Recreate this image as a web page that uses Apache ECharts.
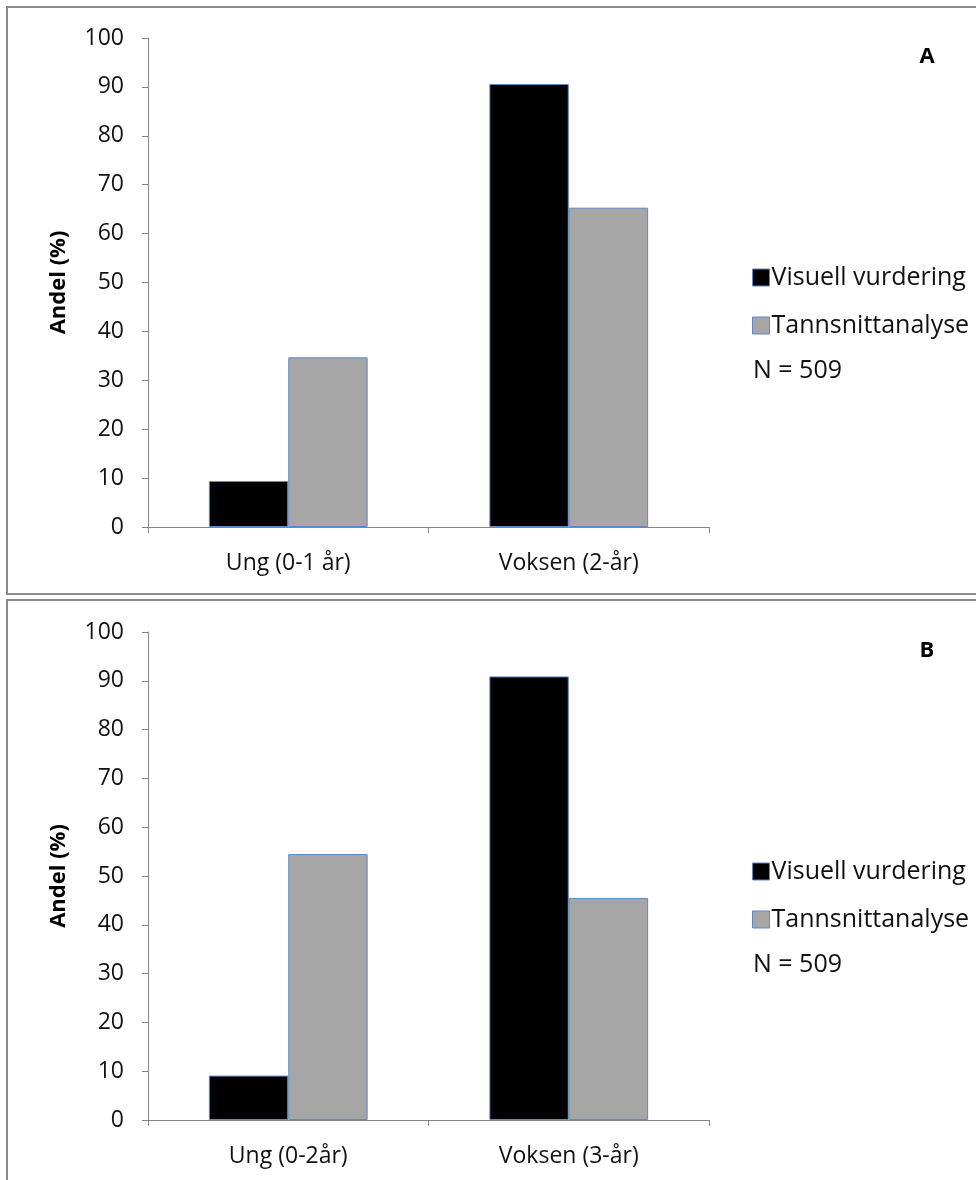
<!DOCTYPE html>
<html>
<head>
<meta charset="utf-8">
<script src="https://cdn.jsdelivr.net/npm/echarts@6/dist/echarts.min.js"></script>
<style>
html,body{margin:0;padding:0;background:#fff;}
#c{width:976px;height:1180px;}
</style>
</head>
<body>
<div id="c"></div>
<script>
var categoriesA = ['Ung (0-1 år)', 'Voksen (2-år)'];
var categoriesB = ['Ung (0-2år)', 'Voksen (3-år)'];
var seriesNames = ['Visuell vurdering', 'Tannsnittanalyse'];
var visuellA = [9.4, 90.6];
var tannsnittA = [34.7, 65.3];
var visuellB = [9.1, 90.9];
var tannsnittB = [54.5, 45.5];
var yTicks = [0, 10, 20, 30, 40, 50, 60, 70, 80, 90, 100];
var panelLabels = ['A', 'B'];
var noteText = 'N = 509';

var FONT = '"Open Sans", Lato, sans-serif';
var chart = echarts.init(document.getElementById('c'), null, {renderer: 'canvas'});

var grids = [
  {left: 148, top: 38, width: 561, height: 489},
  {left: 148, top: 632, width: 561, height: 488}
];

function xAxis(i, cats) {
  return {
    type: 'category', gridIndex: i, data: cats,
    axisLine: {lineStyle: {color: '#868686', width: 1}},
    axisTick: {show: true, length: 6, lineStyle: {color: '#868686'}},
    axisLabel: {color: '#111', fontFamily: FONT, fontSize: 23, margin: 25}
  };
}
function yAxis(i) {
  return {
    type: 'value', gridIndex: i, min: yTicks[0], max: yTicks[yTicks.length - 1], interval: 10,
    name: 'Andel (%)', nameLocation: 'middle', nameGap: 78, nameRotate: 90,
    nameTextStyle: {color: '#000', fontFamily: FONT, fontSize: 22, fontWeight: 'bold'},
    axisLine: {show: true, lineStyle: {color: '#868686', width: 1}},
    axisTick: {show: true, length: 6, lineStyle: {color: '#868686'}},
    splitLine: {show: false},
    axisLabel: {color: '#111', fontFamily: FONT, fontSize: 23, margin: 24}
  };
}
function bar(name, data, i, color) {
  return {
    name: name, type: 'bar', xAxisIndex: i, yAxisIndex: i, data: data,
    barGap: '0%', barCategoryGap: '43.4%',
    itemStyle: {color: color, borderColor: '#5f8ac6', borderWidth: 1},
    animation: false
  };
}
function legend(top) {
  return {
    orient: 'vertical', left: 752, top: top, padding: 0, itemWidth: 17, itemHeight: 17, itemGap: 23,
    icon: 'rect', selectedMode: false,
    textStyle: {color: '#111', fontFamily: FONT, fontSize: 25, padding: [0, 0, 0, -3]},
    data: seriesNames.map(function (n) { return {name: n, itemStyle: {borderColor: '#5f8ac6', borderWidth: 1}}; })
  };
}

chart.setOption({
  animation: false,
  backgroundColor: '#fff',
  grid: grids,
  xAxis: [xAxis(0, categoriesA), xAxis(1, categoriesB)],
  yAxis: [yAxis(0), yAxis(1)],
  legend: [legend(265), legend(859)],
  series: [
    bar(seriesNames[0], visuellA, 0, '#000000'),
    bar(seriesNames[1], tannsnittA, 0, '#a6a6a6'),
    bar(seriesNames[0], visuellB, 1, '#000000'),
    bar(seriesNames[1], tannsnittB, 1, '#a6a6a6')
  ],
  graphic: [
    {type: 'rect', shape: {x: 7, y: 7, width: 990, height: 587}, style: {fill: 'none', stroke: '#8a8a8a', lineWidth: 2}},
    {type: 'rect', shape: {x: 7, y: 600, width: 990, height: 600}, style: {fill: 'none', stroke: '#8a8a8a', lineWidth: 2}},
    {type: 'text', x: 927, y: 57, style: {text: panelLabels[0], fill: '#000', font: 'bold 22px ' + FONT, align: 'center', verticalAlign: 'middle'}},
    {type: 'text', x: 927, y: 651, style: {text: panelLabels[1], fill: '#000', font: 'bold 22px ' + FONT, align: 'center', verticalAlign: 'middle'}},
    {type: 'text', x: 753, y: 371, style: {text: noteText, fill: '#111', font: '25px ' + FONT, verticalAlign: 'middle'}},
    {type: 'text', x: 753, y: 965, style: {text: noteText, fill: '#111', font: '25px ' + FONT, verticalAlign: 'middle'}}
  ]
});
</script>
</body>
</html>
